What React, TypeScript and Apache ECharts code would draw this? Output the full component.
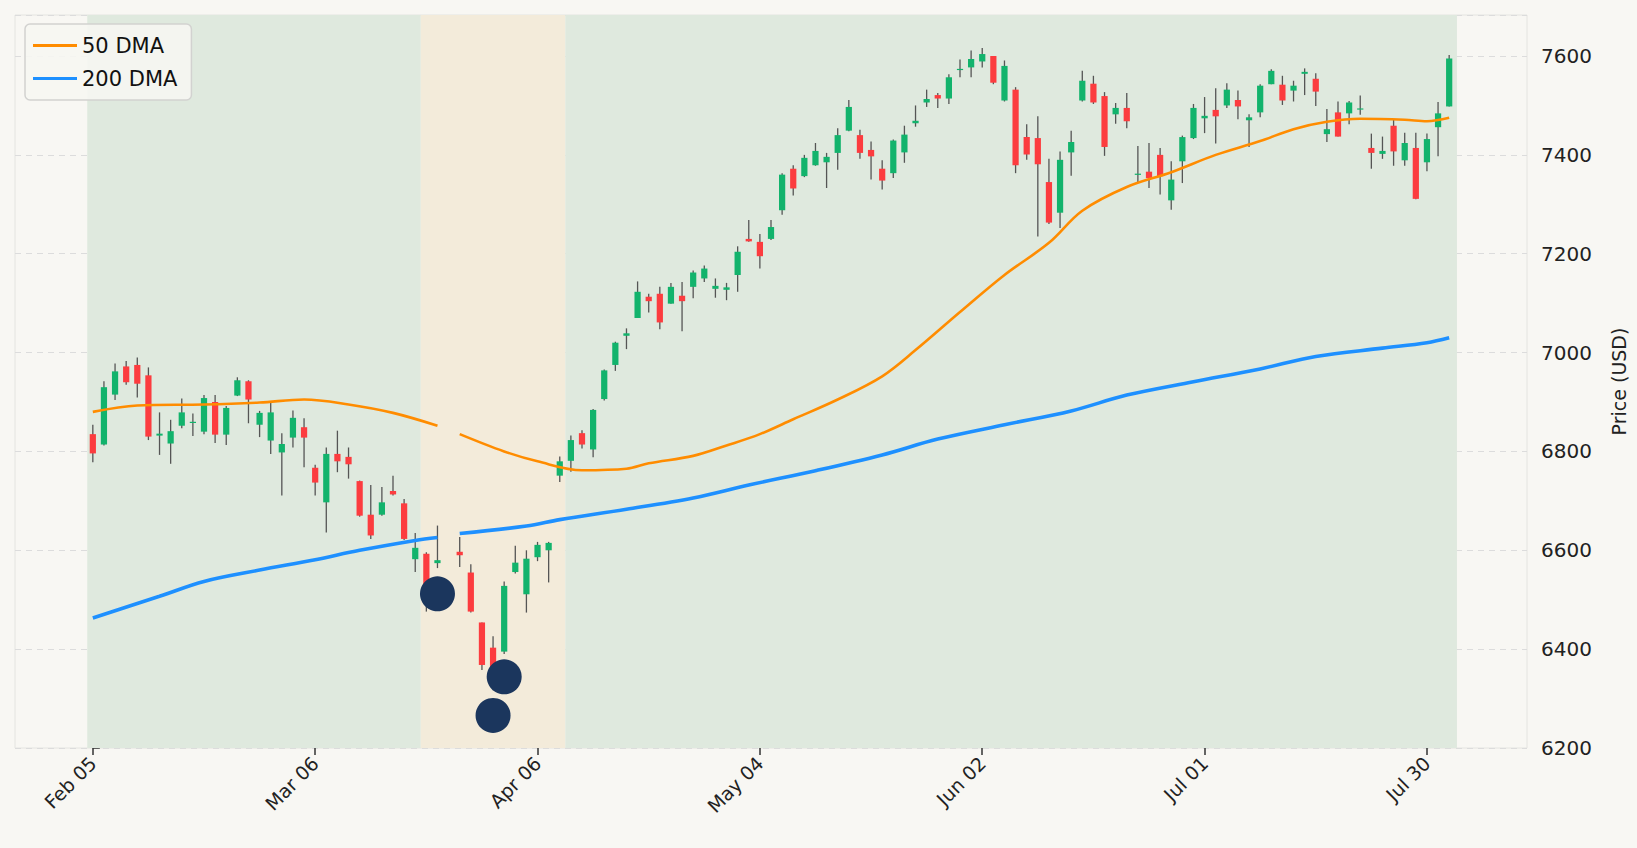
import { useEffect, useRef } from 'react';
import * as echarts from 'echarts';

// trading-day slots, index 32 is an empty day
const opens = [
  6835, 6814, 6915, 6972, 6975, 6954, 6832, 6816, 6852, 6858, 6840, 6900, 6834, 6913, 6942, 6854, 6822, 6798, 6828, 6849,
  6767, 6697, 6795, 6789, 6740, 6672, 6672, 6720, 6695, 6582, 6593, 6574, null, 6597, 6555, 6454, 6403, 6395, 6556, 6511,
  6586, 6600, 6751, 6781, 6837, 6804, 6906, 6975, 7034, 7070, 7113, 7119, 7099, 7115, 7133, 7150, 7129, 7127, 7157, 7230,
  7224, 7230, 7288, 7372, 7357, 7379, 7385, 7404, 7449, 7440, 7410, 7372, 7363, 7405, 7464, 7506, 7521, 7514, 7572, 7577,
  7589, 7600, 7510, 7532, 7436, 7434, 7345, 7283, 7405, 7510, 7544, 7519, 7482, 7495, 7360, 7366, 7400, 7308, 7387, 7434,
  7474, 7491, 7500, 7511, 7470, 7486, 7543, 7542, 7530, 7564, 7554, 7442, 7486, 7484, 7492, 7414, 7402, 7459, 7389, 7414,
  7385, 7456, 7498,
];
const closes = [
  6796, 6930, 6962, 6940, 6937, 6830, 6836, 6841, 6879, 6860, 6908, 6834, 6888, 6944, 6905, 6878, 6879, 6815, 6868, 6828,
  6737, 6795, 6780, 6774, 6670, 6630, 6697, 6713, 6623, 6605, 6505, 6580, null, 6590, 6476, 6368, 6360, 6528, 6575, 6583,
  6611, 6615, 6780, 6823, 6814, 6884, 6964, 7020, 7039, 7123, 7104, 7061, 7133, 7104, 7162, 7170, 7135, 7132, 7204, 7225,
  7195, 7254, 7360, 7332, 7394, 7408, 7396, 7440, 7497, 7404, 7397, 7348, 7429, 7441, 7469, 7513, 7514, 7557, 7574, 7594,
  7604, 7546, 7580, 7379, 7401, 7381, 7263, 7390, 7426, 7550, 7506, 7416, 7495, 7468, 7362, 7353, 7357, 7350, 7436, 7495,
  7479, 7478, 7532, 7498, 7476, 7540, 7570, 7510, 7540, 7568, 7528, 7452, 7437, 7506, 7494, 7404, 7408, 7407, 7424, 7311,
  7432, 7484, 7595,
];
const lows = [
  6778, 6812, 6904, 6935, 6909, 6823, 6793, 6775, 6847, 6831, 6835, 6817, 6813, 6912, 6857, 6829, 6795, 6711, 6808, 6768,
  6711, 6636, 6758, 6745, 6668, 6623, 6670, 6711, 6621, 6556, 6476, 6564, null, 6566, 6474, 6358, 6317, 6390, 6553, 6474,
  6578, 6535, 6738, 6759, 6806, 6788, 6903, 6963, 7007, 7070, 7081, 7047, 7099, 7043, 7110, 7143, 7111, 7106, 7123, 7224,
  7170, 7228, 7279, 7318, 7355, 7378, 7333, 7370, 7448, 7392, 7350, 7330, 7353, 7384, 7457, 7497, 7495, 7503, 7557, 7557,
  7577, 7543, 7508, 7363, 7390, 7235, 7260, 7252, 7358, 7508, 7503, 7398, 7463, 7454, 7343, 7333, 7320, 7289, 7343, 7432,
  7444, 7423, 7495, 7472, 7416, 7476, 7543, 7501, 7508, 7521, 7499, 7426, 7437, 7462, 7481, 7372, 7392, 7378, 7378, 7310,
  7367, 7397, 7498,
];
const highs = [
  6854, 6942, 6978, 6983, 6990, 6970, 6879, 6864, 6907, 6877, 6914, 6914, 6892, 6950, 6944, 6882, 6899, 6837, 6883, 6867,
  6773, 6808, 6842, 6808, 6741, 6732, 6728, 6751, 6704, 6635, 6596, 6650, null, 6627, 6572, 6454, 6426, 6537, 6609, 6600,
  6617, 6617, 6790, 6832, 6843, 6886, 6966, 7022, 7049, 7144, 7119, 7133, 7141, 7143, 7166, 7176, 7150, 7141, 7215, 7268,
  7240, 7268, 7363, 7379, 7400, 7424, 7404, 7454, 7511, 7451, 7427, 7389, 7431, 7459, 7500, 7532, 7525, 7563, 7593, 7611,
  7616, 7600, 7591, 7537, 7462, 7478, 7392, 7407, 7449, 7570, 7560, 7527, 7505, 7525, 7418, 7424, 7414, 7387, 7439, 7503,
  7517, 7535, 7545, 7530, 7482, 7543, 7573, 7560, 7550, 7575, 7565, 7493, 7508, 7509, 7520, 7443, 7437, 7472, 7445, 7445,
  7443, 7507, 7602,
];

// moving averages: [slot, value], split at the empty day
const dma50A = [[0, 6880], [4, 6893], [10, 6895], [15, 6899], [19, 6905], [23, 6895], [27, 6878], [31, 6852]];
const dma50B = [
  [33, 6835], [37, 6800], [40, 6780], [44, 6762], [48, 6765], [50, 6776], [54, 6791], [57, 6812], [60, 6835], [63, 6865],
  [67, 6905], [71, 6952], [74, 7005], [78, 7082], [82, 7157], [86, 7222], [89, 7287], [93, 7335], [97, 7365], [101, 7400],
  [105, 7428], [108, 7452], [111, 7467], [114, 7473], [118, 7471], [120, 7468], [122, 7475],
];
const dma200A = [[0, 6463], [6, 6507], [10, 6537], [15, 6560], [20, 6581], [24, 6600], [29, 6620], [31, 6626]];
const dma200B = [
  [33, 6634], [39, 6649], [42, 6662], [48, 6683], [54, 6706], [59, 6732], [65, 6761], [71, 6793], [76, 6825], [82, 6854],
  [88, 6882], [93, 6914], [99, 6941], [105, 6967], [110, 6992], [116, 7009], [120, 7020], [122, 7030],
];

const markers = [[31, 6512], [36, 6266], [37, 6344]];

const tickSlots = [0, 20, 40, 60, 80, 100, 120];
const tickLabels = ['Feb 05', 'Mar 06', 'Apr 06', 'May 04', 'Jun 02', 'Jul 01', 'Jul 30'];

// shaded regimes: [from, to, kind]
const regimes: [number, number, string][] = [
  [-0.5, 29.5, 'up'],
  [29.5, 42.5, 'down'],
  [42.5, 122.7, 'up'],
];

const SLOT_MIN = -7;
const SLOT_MAX = 129;
const FONT = 'DejaVu Sans';

export default function App() {
  const chartRef = useRef<HTMLDivElement>(null);

  useEffect(() => {
    if (!chartRef.current) return;
    document.body.style.margin = '0';
    const chart = echarts.init(chartRef.current, undefined, { renderer: 'svg' });

    const categories: string[] = [];
    for (let i = SLOT_MIN; i <= SLOT_MAX; i++) categories.push(String(i));
    const labelFor = (v: string) => {
      const k = tickSlots.indexOf(Number(v));
      return k >= 0 ? tickLabels[k] : '';
    };
    const isTick = (_i: number, v: string) => tickSlots.includes(Number(v));

    const candles = opens
      .map((o, i) => (o == null ? null : [i, o, closes[i], lows[i], highs[i]]))
      .filter(Boolean) as number[][];

    const lineCommon = {
      type: 'line' as const,
      xAxisIndex: 1,
      smooth: 0.35,
      showSymbol: false,
      z: 4,
    };

    const option: echarts.EChartsOption = {
      animation: false,
      backgroundColor: '#f8f7f3',
      textStyle: { fontFamily: FONT },
      grid: {
        left: 15,
        right: 110,
        top: 15,
        bottom: 100,
        show: true,
        borderColor: '#e4e4e0',
        borderWidth: 1,
      },
      legend: {
        data: ['50 DMA', '200 DMA'],
        orient: 'vertical',
        left: 25,
        top: 24,
        icon: 'rect',
        itemWidth: 44,
        itemHeight: 3,
        itemGap: 12,
        padding: [11, 14, 11, 8],
        backgroundColor: 'rgba(246,246,242,0.9)',
        borderColor: '#d2d2d0',
        borderWidth: 1.5,
        borderRadius: 5,
        textStyle: { fontSize: 21, color: '#111', fontFamily: FONT },
      },
      xAxis: [
        {
          type: 'category',
          data: categories,
          boundaryGap: false,
          axisLine: { show: false },
          axisTick: { show: true, interval: isTick, length: 7, lineStyle: { color: '#333', width: 1.5 } },
          axisLabel: {
            interval: isTick,
            formatter: labelFor,
            rotate: 45,
            fontSize: 19,
            color: '#222',
            margin: 12,
            fontFamily: FONT,
          },
          splitLine: { show: true, interval: isTick, lineStyle: { color: '#dcdcdc', type: [6, 5], width: 1 } },
        },
        { type: 'value', min: SLOT_MIN, max: SLOT_MAX, show: false },
      ],
      yAxis: {
        type: 'value',
        position: 'right',
        min: 6200,
        max: 7683,
        interval: 200,
        name: 'Price (USD)',
        nameLocation: 'middle',
        nameGap: 82,
        nameRotate: 90,
        nameTextStyle: { fontSize: 19, color: '#222', fontFamily: FONT },
        axisLine: { show: false },
        axisTick: { show: true, length: 7, lineStyle: { color: '#333', width: 1.5 } },
        axisLabel: {
          fontSize: 20,
          color: '#222',
          margin: 14,
          fontFamily: FONT,
          showMaxLabel: false,
          formatter: (v: number) => String(v),
        },
        splitLine: { lineStyle: { color: '#dcdcdc', type: [6, 5], width: 1 } },
      },
      series: [
        {
          type: 'line',
          xAxisIndex: 1,
          data: [],
          silent: true,
          markArea: {
            silent: true,
            data: regimes.map(([a, b, k]) => [
              { xAxis: a, itemStyle: { color: k === 'up' ? '#dfe9de' : '#f3ebda' } },
              { xAxis: b },
            ]) as any,
          },
        },
        {
          type: 'custom',
          xAxisIndex: 1,
          z: 3,
          data: candles,
          renderItem: (_p: any, api: any) => {
            const x = api.value(0);
            const o = api.value(1);
            const c = api.value(2);
            const pl = api.coord([x, api.value(3)]);
            const ph = api.coord([x, api.value(4)]);
            const po = api.coord([x, o]);
            const pc = api.coord([x, c]);
            const w = api.size([1, 0])[0] * 0.56;
            const top = Math.min(po[1], pc[1]);
            const h = Math.max(Math.abs(po[1] - pc[1]), 1.2);
            const up = c >= o;
            return {
              type: 'group',
              children: [
                {
                  type: 'line',
                  shape: { x1: pl[0], y1: pl[1], x2: ph[0], y2: ph[1] },
                  style: { stroke: '#555', lineWidth: 1.3 },
                },
                {
                  type: 'rect',
                  shape: { x: po[0] - w / 2, y: top, width: w, height: h },
                  style: { fill: up ? '#12b36c' : '#fc3c3f' },
                },
              ],
            };
          },
        },
        { ...lineCommon, name: '50 DMA', data: dma50A, color: '#ff8c00', lineStyle: { width: 2.6 } },
        { ...lineCommon, name: '50 DMA', data: dma50B, color: '#ff8c00', lineStyle: { width: 2.6 } },
        { ...lineCommon, name: '200 DMA', data: dma200A, color: '#1e90ff', lineStyle: { width: 3.6 } },
        { ...lineCommon, name: '200 DMA', data: dma200B, color: '#1e90ff', lineStyle: { width: 3.6 } },
        {
          type: 'scatter',
          xAxisIndex: 1,
          data: markers,
          symbolSize: 35,
          z: 6,
          itemStyle: { color: '#1b365d', opacity: 1 },
        },
      ],
    };

    chart.setOption(option);
    return () => chart.dispose();
  }, []);

  return <div ref={chartRef} style={{ width: 1637, height: 848 }} />;
}
